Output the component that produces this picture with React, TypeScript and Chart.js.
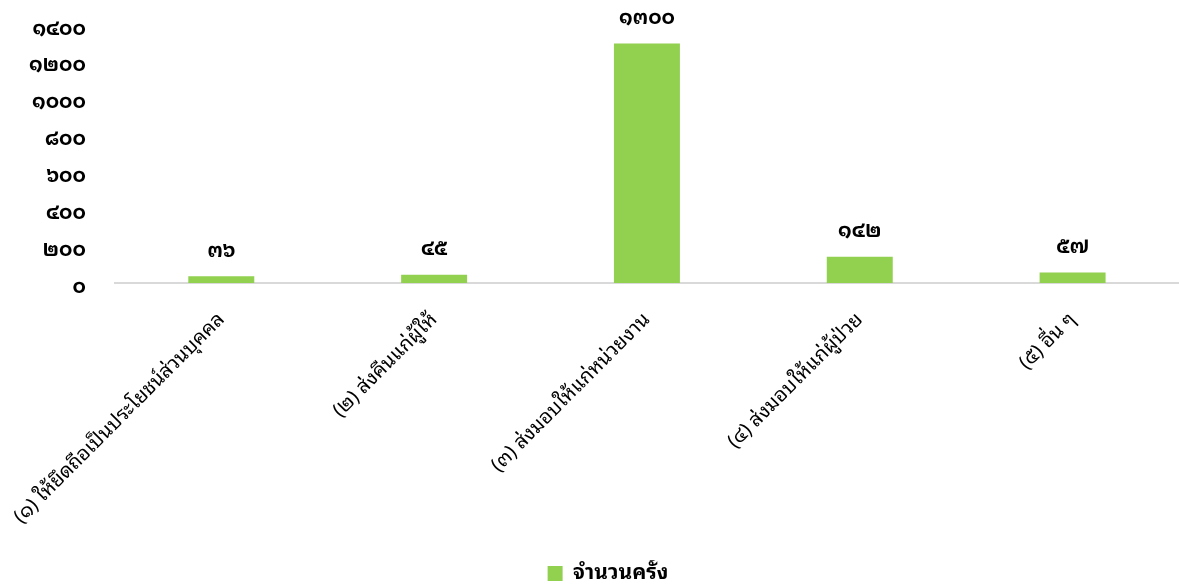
import React, { useEffect, useRef } from "react";
import { Chart, registerables } from "chart.js";

Chart.register(...registerables);

const categories: string[] = [
  "(๑) ให้ยึดถือเป็นประโยชน์ส่วนบุคคล",
  "(๒) ส่งคืนแก่ผู้ให้",
  "(๓) ส่งมอบให้แก่หน่วยงาน",
  "(๔) ส่งมอบให้แก่ผู้ป่วย",
  "(๕) อื่น ๆ",
];
const seriesLabel = "จำนวนครั้ง";
const counts: number[] = [36, 45, 1300, 142, 57];
const yMax = 1400;
const yStep = 200;

const thaiDigits = ["๐", "๑", "๒", "๓", "๔", "๕", "๖", "๗", "๘", "๙"];
const toThai = (n: number | string) =>
  String(n).replace(/[0-9]/g, (d) => thaiDigits[Number(d)]);

const FONT = "'Noto Sans Thai Looped', 'Noto Sans Thai', sans-serif";

const dataLabels = {
  id: "dataLabels",
  afterDatasetsDraw(chart: any) {
    const ctx = chart.ctx;
    ctx.save();
    ctx.font = `bold 20px ${FONT}`;
    ctx.fillStyle = "#000";
    ctx.textAlign = "center";
    ctx.textBaseline = "middle";
    chart.data.datasets.forEach((ds: any, i: number) => {
      const meta = chart.getDatasetMeta(i);
      meta.data.forEach((el: any, j: number) => {
        ctx.fillText(toThai(ds.data[j]), el.x, el.y - 25);
      });
    });
    ctx.restore();
  },
};

const legendShift = {
  id: "legendShift",
  afterLayout(chart: any) {
    const l = chart.legend;
    if (!l) return;
    l.left += 4;
    l.right += 4;
    l.top += 6;
    l.bottom += 6;
  },
};

export default function App() {
  const ref = useRef<HTMLCanvasElement | null>(null);
  useEffect(() => {
    if (!ref.current) return;
    const chart = new Chart(ref.current, {
      type: "bar",
      data: {
        labels: categories,
        datasets: [
          {
            label: seriesLabel,
            data: counts,
            backgroundColor: "#92D050",
            borderWidth: 0,
            barPercentage: 0.31,
            categoryPercentage: 1,
          },
        ],
      },
      options: {
        animation: false,
        responsive: false,
        maintainAspectRatio: false,
        layout: { padding: { top: 25, left: 29, right: 0, bottom: 0 } },
        scales: {
          x: {
            grid: { display: false, drawTicks: true, tickLength: 25 },
            border: { color: "#d9d9d9", width: 2 },
            ticks: {
              color: "#000",
              font: { family: FONT, size: 20 },
              maxRotation: 45,
              minRotation: 45,
              padding: 0,
              autoSkip: false,
            },
            afterFit: (scale: any) => {
              scale.height = 271;
            },
          },
          y: {
            min: 0,
            max: yMax,
            grid: { display: false, drawTicks: true, tickLength: 29 },
            border: { display: false },
            ticks: {
              stepSize: yStep,
              color: "#000",
              font: { family: FONT, size: 20, weight: "bold" },
              padding: 0,
              labelOffset: 4,
              callback: (v: any) => toThai(v),
            },
          },
        },
        plugins: {
          legend: {
            position: "bottom",
            labels: {
              color: "#000",
              boxWidth: 15,
              boxHeight: 15,
              padding: 3,
              font: { family: FONT, size: 21, weight: "bold" },
            },
          },
          tooltip: { enabled: false },
        },
      },
      plugins: [dataLabels, legendShift],
    });
    return () => chart.destroy();
  }, []);
  return (
    <div style={{ position: "fixed", left: 0, top: 0, width: 1179, height: 588, background: "#fff" }}>
      <canvas ref={ref} width={1179} height={588} style={{ width: 1179, height: 588 }} />
    </div>
  );
}
